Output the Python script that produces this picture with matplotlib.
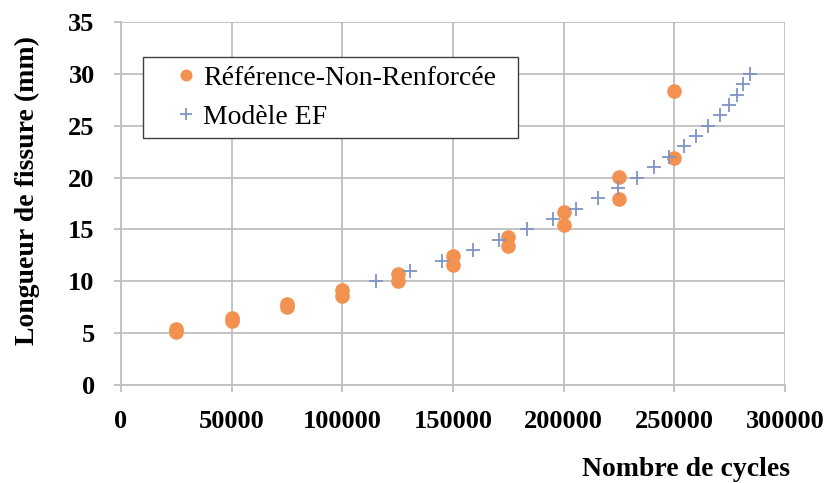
import matplotlib
matplotlib.use("Agg")
from matplotlib import pyplot as plt

# measured points (Référence-Non-Renforcée), two specimens per cycle count
ref_cycles = [25000, 25000, 50000, 50000, 75000, 75000, 100000, 100000,
              125000, 125000, 150000, 150000, 175000, 175000, 200000, 200000,
              225000, 225000, 250000, 250000]
ref_length = [5.1, 5.4, 6.2, 6.5, 7.5, 7.8, 8.6, 9.2,
              10.0, 10.7, 11.6, 12.4, 13.4, 14.3, 15.4, 16.7,
              17.9, 20.1, 21.9, 28.3]

# finite element model
ef_cycles = [115000, 130500, 145000, 159000, 171000, 183500, 195000, 205500,
             215500, 224500, 233000, 241000, 247500, 254500, 260000, 265000,
             270500, 274500, 278500, 281000, 284000]
ef_length = [10, 11, 12, 13, 14, 15, 16, 17, 18, 19, 20, 21, 22, 23, 24, 25,
             26, 27, 28, 29, 30]

x_ticks = [0, 50000, 100000, 150000, 200000, 250000, 300000]
y_ticks = [0, 5, 10, 15, 20, 25, 30, 35]

orange = '#F39150'
blue = '#7F93C4'
grid_col = '#BFBFBF'

plt.rcParams['font.family'] = ['Liberation Serif', 'DejaVu Serif']

fig = plt.figure(figsize=(8.3, 4.83), dpi=100)
ax = fig.add_axes([0.1458, 0.2029, 0.80, 0.7516])

ax.plot(ref_cycles, ref_length, 'o', color=orange, ms=9.5, mec=orange,
        label='Référence-Non-Renforcée', zorder=3)
ax.plot(ef_cycles, ef_length, '+', color=blue, ms=10.5, mew=1.3,
        label='Modèle EF', zorder=3)

ax.set_xlim(0, 300000)
ax.set_ylim(0, 35)
ax.set_xticks(x_ticks)
ax.set_yticks(y_ticks)
ax.set_xticklabels([str(v) for v in x_ticks])
ax.set_yticklabels([str(v) for v in y_ticks])
ax.grid(True, color=grid_col, lw=1.3)
ax.set_axisbelow(True)

for s in ['top', 'right']:
    ax.spines[s].set_visible(False)
for s in ['left', 'bottom']:
    ax.spines[s].set_color(grid_col)
    ax.spines[s].set_linewidth(1.3)

ax.tick_params(axis='both', colors=grid_col, labelcolor='black',
               labelsize=19, length=5, width=1.3)
ax.tick_params(axis='x', pad=13)
ax.tick_params(axis='y', pad=14)
for lab in ax.get_xticklabels() + ax.get_yticklabels():
    lab.set_fontweight('bold')

ax.set_ylabel('Longueur de fissure (mm)', fontsize=20, fontweight='bold')
ax.yaxis.set_label_coords(-0.122, 0.537)
ax.set_xlabel('Nombre de cycles', fontsize=20, fontweight='bold', ha='right')
ax.xaxis.set_label_coords(1.0075, -0.198)

# legend box stretched to the width of the original frame
leg = ax.legend(loc='upper left', bbox_to_anchor=(0.033, 0.0, 0.565, 0.904),
                mode='expand', borderaxespad=0, fontsize=20, markerscale=0.8,
                handlelength=2.5, handletextpad=-0.64, borderpad=0.3,
                labelspacing=0.5, fancybox=False, framealpha=1)
leg.get_frame().set_edgecolor('#404040')
leg.get_frame().set_linewidth(1.0)

fig.savefig('out.png', dpi=100)
